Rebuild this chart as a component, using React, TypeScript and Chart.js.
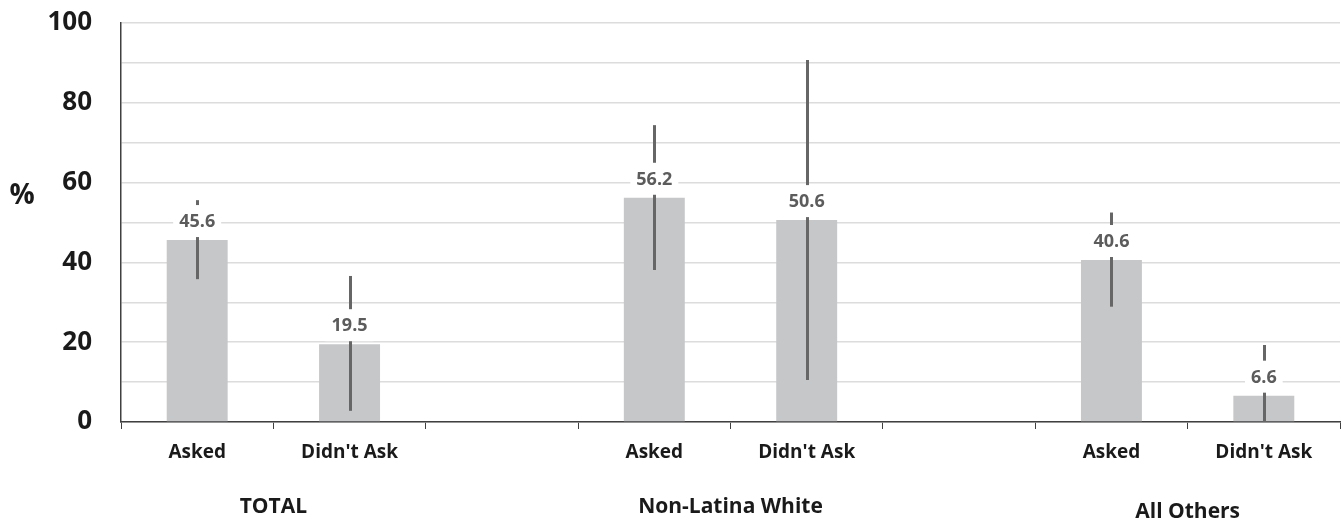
import React, { useEffect, useRef } from "react";
import { Chart, registerables } from "chart.js";

Chart.register(...registerables);

const categories = ["Asked", "Didn't Ask", "", "Asked", "Didn't Ask", "", "Asked", "Didn't Ask"];
const values = [45.6, 19.5, null, 56.2, 50.6, null, 40.6, 6.6];
const lowerCI = [35.8, 2.8, null, 38.1, 10.5, null, 28.9, 0];
const upperCI = [55.6, 36.6, null, 74.4, 90.7, null, 52.5, 19.3];
const groupLabels = ["TOTAL", "Non-Latina White", "All Others"];
const groupStartIndex = [0, 3, 6];
const yTicks = [0, 20, 40, 60, 80, 100];

const FONT = "'Open Sans', 'DejaVu Sans', sans-serif";
const TEXT_DARK = "#1a1a1a";

const overlayPlugin = {
  id: "overlay",
  afterDatasetsDraw(chart: any) {
    const ctx = chart.ctx;
    const meta = chart.getDatasetMeta(0);
    const yScale = chart.scales.y;
    ctx.save();
    meta.data.forEach((bar: any, i: number) => {
      const v = values[i];
      if (v === null || v === undefined) return;
      const x = bar.x;
      const lo = lowerCI[i] as number;
      const hi = upperCI[i] as number;
      ctx.strokeStyle = "#666666";
      ctx.lineWidth = 3;
      ctx.lineCap = "butt";
      ctx.beginPath();
      ctx.moveTo(Math.round(x) + 0.5, yScale.getPixelForValue(hi));
      ctx.lineTo(Math.round(x) + 0.5, yScale.getPixelForValue(lo));
      ctx.stroke();
      const cy = bar.y - 19;
      ctx.font = `bold 18px ${FONT}`;
      const txt = (v as number).toFixed(1);
      const w = ctx.measureText(txt).width;
      ctx.fillStyle = "#ffffff";
      ctx.fillRect(x - w / 2 - 6, cy - 16, w + 12, 32);
      ctx.fillStyle = "#5c5c5c";
      ctx.textAlign = "center";
      ctx.textBaseline = "middle";
      ctx.fillText(txt, x, cy + 1);
    });
    ctx.restore();
  },
  afterDraw(chart: any) {
    const ctx = chart.ctx;
    const xScale = chart.scales.x;
    ctx.save();
    ctx.fillStyle = TEXT_DARK;
    ctx.textAlign = "center";
    ctx.textBaseline = "middle";
    ctx.font = `bold 28px ${FONT}`;
    ctx.fillText("%", 22, 196);
    ctx.font = `bold 21px ${FONT}`;
    groupLabels.forEach((g, k) => {
      const s = groupStartIndex[k];
      const x = (xScale.getPixelForValue(s) + xScale.getPixelForValue(s + 1)) / 2;
      const y = k === groupLabels.length - 1 ? 512 : 507;
      ctx.fillText(g, x, y);
    });
    ctx.restore();
  },
};

export default function App() {
  const canvasRef = useRef<HTMLCanvasElement | null>(null);

  useEffect(() => {
    const canvas = canvasRef.current;
    if (!canvas) return;
    const chart = new Chart(canvas, {
      type: "bar",
      data: {
        labels: categories,
        datasets: [
          {
            data: values as any,
            backgroundColor: "#c6c7c9",
            borderWidth: 0,
            barPercentage: 0.4,
            categoryPercentage: 1.0,
          },
        ],
      },
      options: {
        animation: false,
        responsive: true,
        maintainAspectRatio: false,
        layout: { padding: { top: 23, right: 2, left: 0, bottom: 0 } },
        plugins: {
          legend: { display: false },
          tooltip: { enabled: false },
          title: { display: false },
        },
        scales: {
          x: {
            afterFit: (s: any) => {
              s.height = 101;
            },
            grid: {
              display: true,
              drawOnChartArea: false,
              drawTicks: true,
              tickLength: 7,
              offset: true,
              color: "#404040",
              lineWidth: 1,
            },
            border: { display: true, color: "#404040", width: 1.5 },
            ticks: {
              color: TEXT_DARK,
              font: { family: FONT, size: 19, weight: "bold" },
              padding: 12,
              maxRotation: 0,
              autoSkip: false,
            },
          },
          y: {
            min: 0,
            max: 100,
            afterFit: (s: any) => {
              s.width = 121;
            },
            grid: {
              color: "#dcdcdc",
              lineWidth: 1.5,
              drawTicks: true,
              tickLength: 29,
              tickColor: "rgba(0,0,0,0)",
            },
            border: { display: true, color: "#404040", width: 1.5 },
            ticks: {
              stepSize: 10,
              padding: 0,
              color: TEXT_DARK,
              font: { family: FONT, size: 26, weight: "bold" },
              callback: (v: any) => (yTicks.includes(Number(v)) ? String(v) : ""),
            },
          },
        },
      },
      plugins: [overlayPlugin],
    });
    return () => chart.destroy();
  }, []);

  return (
    <div style={{ position: "absolute", left: 0, top: 0, width: 1342, height: 523, background: "#ffffff" }}>
      <canvas ref={canvasRef} />
    </div>
  );
}
